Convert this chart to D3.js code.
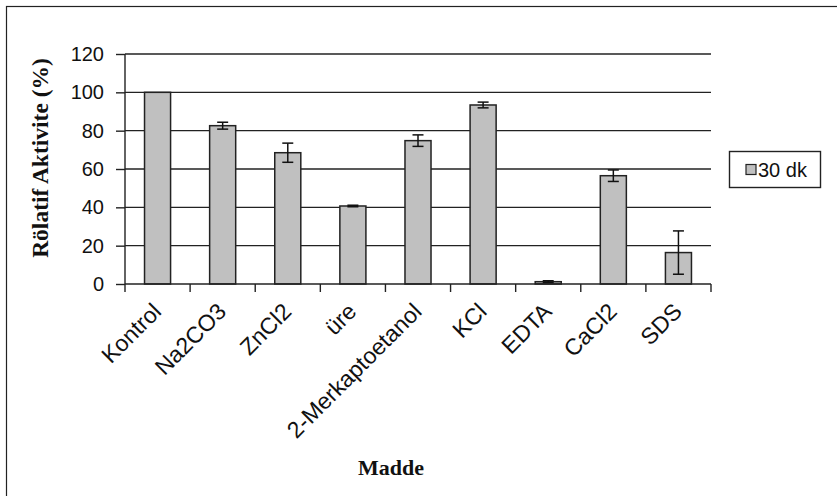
<!DOCTYPE html>
<html>
<head>
<meta charset="utf-8">
<script src="https://cdn.jsdelivr.net/npm/d3@7"></script>
<style>
  html, body { margin: 0; padding: 0; background: #fff; }
  svg { display: block; }
</style>
</head>
<body>
<svg id="chart" width="837" height="496"></svg>
<script>
const categories = ["Kontrol", "Na2CO3", "ZnCl2", "üre", "2-Merkaptoetanol", "KCl", "EDTA", "CaCl2", "SDS"];
const values = [100, 82.6, 68.5, 40.7, 74.8, 93.4, 1.2, 56.5, 16.4];
const errors = [0, 1.8, 5.0, 0.4, 3.0, 1.5, 0.5, 3.0, 11.3];
const yTicks = [0, 20, 40, 60, 80, 100, 120];
const seriesName = "30 dk";
const yTitle = "Rölatif Aktivite (%)";
const xTitle = "Madde";

(function () {
const svg = d3.select("#chart");
const sans = "Arial, 'Liberation Sans', sans-serif";
const serif = "'Times New Roman', 'Liberation Serif', serif";
const pLeft = 125, pRight = 711, pTop = 54, pBottom = 284;

// outer frame
svg.append("rect").attr("x", 6.5).attr("y", 6.5).attr("width", 840).attr("height", 500)
  .attr("fill", "none").attr("stroke", "#222").attr("stroke-width", 1.2);

const x = d3.scaleBand().domain(categories).range([pLeft, pRight]).paddingInner(0.6).paddingOuter(0.3);
const y = d3.scaleLinear().domain([0, 120]).range([pBottom, pTop]);
const step = x.step();

// gridlines
svg.append("g").selectAll("line").data(yTicks.filter(d => d > 0)).join("line")
  .attr("x1", pLeft).attr("x2", pRight)
  .attr("y1", d => y(d)).attr("y2", d => y(d))
  .attr("stroke", "#222").attr("stroke-width", 1.4);

// y axis
const yAxis = svg.append("g").attr("transform", `translate(${pLeft},0)`)
  .call(d3.axisLeft(y).tickValues(yTicks).tickSize(9).tickPadding(12).tickFormat(d3.format("d")));
yAxis.select(".domain").attr("stroke", "#222").attr("stroke-width", 1.4).attr("d", `M0,${pTop}V${pBottom}`);
yAxis.selectAll(".tick line").attr("stroke", "#222").attr("stroke-width", 1.4);
yAxis.selectAll(".tick text").attr("font-family", sans).attr("font-size", 20).attr("fill", "#111");

// bars
svg.append("g").selectAll("rect").data(categories).join("rect")
  .attr("x", d => x(d)).attr("width", x.bandwidth())
  .attr("y", (d, i) => y(values[i])).attr("height", (d, i) => y(0) - y(values[i]))
  .attr("fill", "#c0c0c0").attr("stroke", "#222").attr("stroke-width", 1.5);

// error bars
const eg = svg.append("g").attr("stroke", "#111").attr("stroke-width", 1.5);
categories.forEach((c, i) => {
  if (!errors[i]) return;
  const cx = x(c) + x.bandwidth() / 2;
  const y1 = y(values[i] + errors[i]), y2 = y(values[i] - errors[i]);
  eg.append("line").attr("x1", cx).attr("x2", cx).attr("y1", y1).attr("y2", y2);
  eg.append("line").attr("x1", cx - 5.5).attr("x2", cx + 5.5).attr("y1", y1).attr("y2", y1);
  eg.append("line").attr("x1", cx - 5.5).attr("x2", cx + 5.5).attr("y1", y2).attr("y2", y2);
});

// x axis line and ticks
const xa = svg.append("g");
xa.append("line").attr("x1", pLeft).attr("x2", pRight).attr("y1", pBottom).attr("y2", pBottom)
  .attr("stroke", "#222").attr("stroke-width", 1.4);
xa.selectAll("line.t").data(d3.range(categories.length + 1)).join("line").attr("class", "t")
  .attr("x1", i => pLeft + i * step).attr("x2", i => pLeft + i * step)
  .attr("y1", pBottom).attr("y2", pBottom + 8)
  .attr("stroke", "#222").attr("stroke-width", 1.4);

// category labels
svg.append("g").selectAll("text").data(categories).join("text")
  .attr("transform", d => `translate(${x(d) + x.bandwidth() / 2 + 5},${pBottom + 29}) rotate(-45)`)
  .attr("text-anchor", "end")
  .attr("font-family", sans).attr("font-size", 23).attr("fill", "#111")
  .text(d => d);

// axis titles
svg.append("text").attr("transform", `translate(48,158) rotate(-90)`)
  .attr("text-anchor", "middle").attr("font-family", serif).attr("font-weight", "bold")
  .attr("font-size", 23.5).attr("fill", "#111").text(yTitle);
svg.append("text").attr("x", 391).attr("y", 475)
  .attr("text-anchor", "middle").attr("font-family", serif).attr("font-weight", "bold")
  .attr("font-size", 22).attr("fill", "#111").text(xTitle);

// legend
const lg = svg.append("g");
lg.append("rect").attr("x", 729.5).attr("y", 151.5).attr("width", 91).attr("height", 36)
  .attr("fill", "#fff").attr("stroke", "#222").attr("stroke-width", 1.4);
lg.append("rect").attr("x", 746).attr("y", 164.5).attr("width", 10).attr("height", 10)
  .attr("fill", "#c0c0c0").attr("stroke", "#222").attr("stroke-width", 1.2);
lg.append("text").attr("x", 758).attr("y", 177).attr("font-family", sans).attr("font-size", 20)
  .attr("fill", "#111").text(seriesName);
})();
</script>
</body>
</html>
